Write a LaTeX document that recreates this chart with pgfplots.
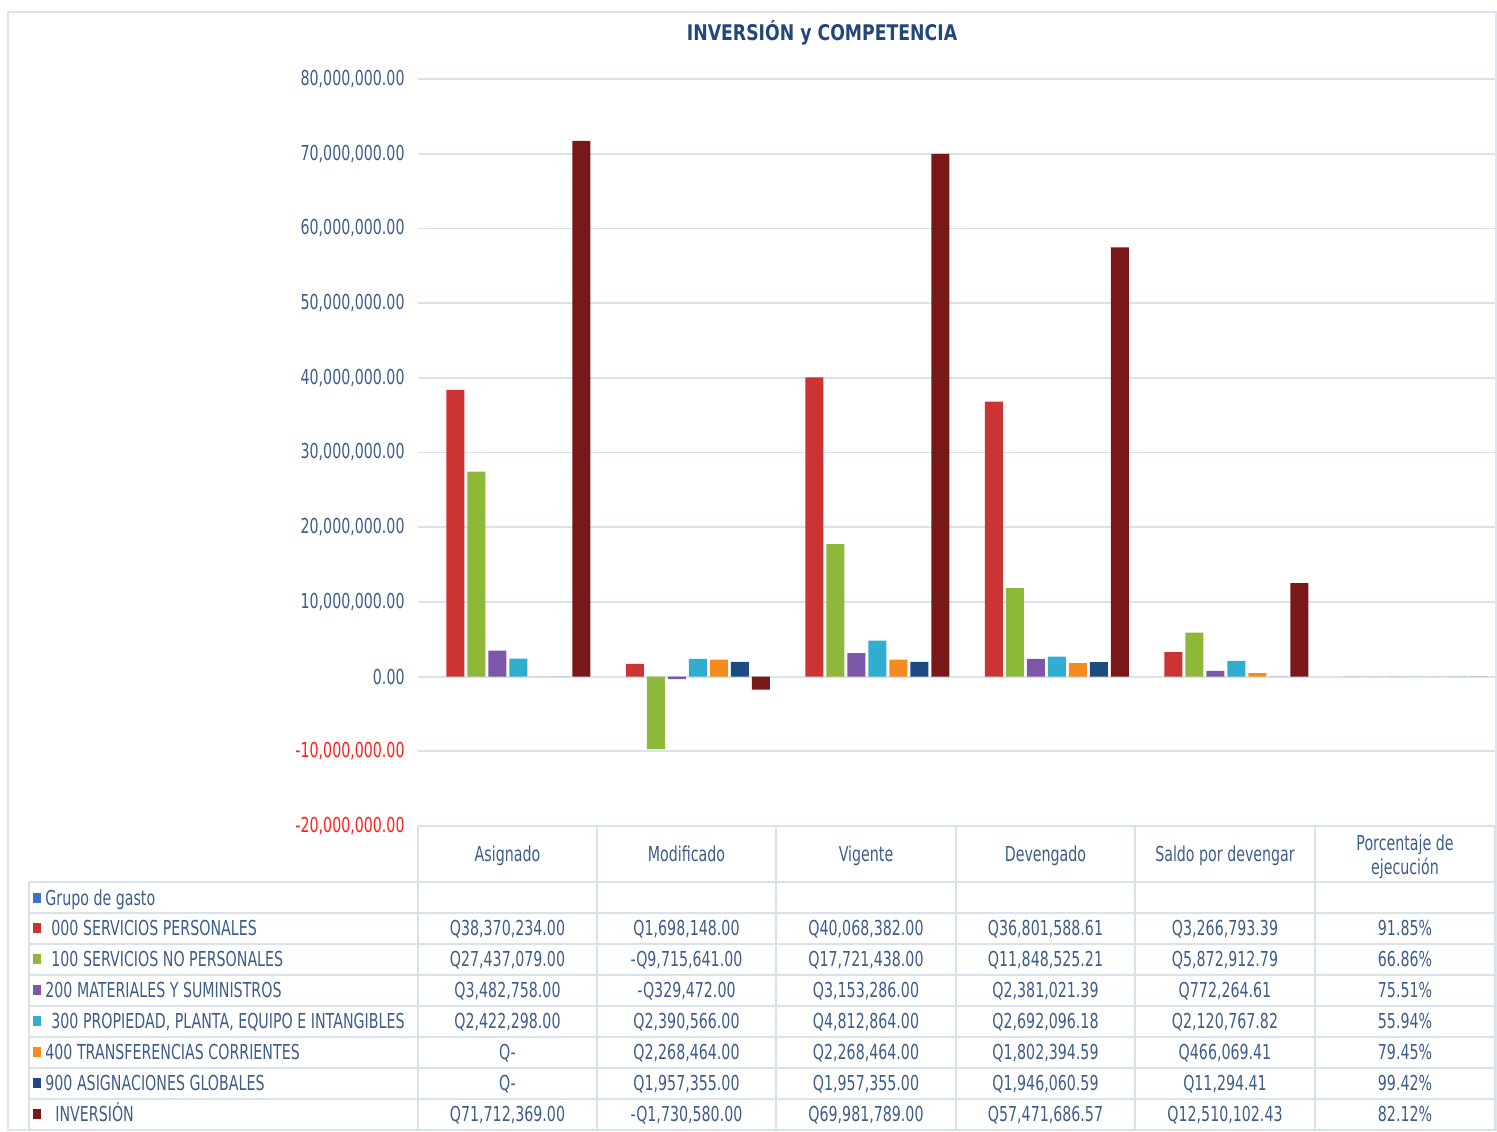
\documentclass[border=0pt]{standalone}
\usepackage{fontspec}
\setmainfont{DejaVu Sans}[FakeStretch=0.69]
\newfontfamily\titlefont{DejaVu Sans}[FakeStretch=0.8]
\usepackage{pgfplots}
\pgfplotsset{compat=1.18}
\definecolor{cgrp}{HTML}{3A75C4}
\definecolor{c000}{HTML}{CC3333}
\definecolor{c100}{HTML}{8DB83A}
\definecolor{c200}{HTML}{7E56A8}
\definecolor{c300}{HTML}{31ADD0}
\definecolor{c400}{HTML}{F58A1E}
\definecolor{c900}{HTML}{1D4A80}
\definecolor{cinv}{HTML}{781818}
\definecolor{gridcol}{HTML}{D6E2EC}
\definecolor{framecol}{HTML}{DCE6F0}
\definecolor{txt}{HTML}{3D5D8A}
\definecolor{ttl}{HTML}{24477A}
\definecolor{negred}{HTML}{FF1E1E}
\begin{document}
\fontsize{10.3}{12}\selectfont
\begin{tikzpicture}
\begin{scope}[x=0.5pt,y=-0.5pt]
\path (0,0) rectangle (1497,1131);
\draw[framecol, line width=0.8pt] (8,12) rectangle (1496,1130);
\node[text=ttl, font=\titlefont\bfseries\fontsize{10.8}{13}\selectfont, text height=8pt, text depth=2pt, yshift=-1pt] at (822,32) {INVERSIÓN y COMPETENCIA};
\end{scope}
\begin{axis}[
  at={(209pt,-413pt)}, anchor=south west,
  width=538.5pt, height=373.5pt, scale only axis,
  xmin=-0.5, xmax=5.5, ymin=-20000000, ymax=80000000,
  axis line style={draw=none}, tick style={draw=none},
  xtick=\empty,
  ytick={-20000000,-10000000,0,10000000,20000000,30000000,40000000,50000000,60000000,70000000,80000000},
  yticklabels={\textcolor{negred}{-20,000,000.00},\textcolor{negred}{-10,000,000.00},0.00,{10,000,000.00},{20,000,000.00},{30,000,000.00},{40,000,000.00},{50,000,000.00},{60,000,000.00},{70,000,000.00},{80,000,000.00}},
  yticklabel style={text=txt, inner sep=0pt, anchor=east, xshift=-6.5pt, font=\fontsize{10.3}{12}\selectfont},
  scaled y ticks=false,
  ymajorgrids, grid style={gridcol, line width=0.9pt},
  ybar=1.5pt, bar width=9pt,
  clip=false,
]
% Grupo de gasto (no values)
\addplot[draw=none, fill=none] coordinates {(0,0) (1,0) (2,0) (3,0) (4,0) (5,0)};
% 000 SERVICIOS PERSONALES
\addplot[draw=none, fill=c000] coordinates {(0,38370234.00) (1,1698148.00) (2,40068382.00) (3,36801588.61) (4,3266793.39) (5,0.9185)};
% 100 SERVICIOS NO PERSONALES
\addplot[draw=none, fill=c100] coordinates {(0,27437079.00) (1,-9715641.00) (2,17721438.00) (3,11848525.21) (4,5872912.79) (5,0.6686)};
% 200 MATERIALES Y SUMINISTROS
\addplot[draw=none, fill=c200] coordinates {(0,3482758.00) (1,-329472.00) (2,3153286.00) (3,2381021.39) (4,772264.61) (5,0.7551)};
% 300 PROPIEDAD, PLANTA, EQUIPO E INTANGIBLES
\addplot[draw=none, fill=c300] coordinates {(0,2422298.00) (1,2390566.00) (2,4812864.00) (3,2692096.18) (4,2120767.82) (5,0.5594)};
% 400 TRANSFERENCIAS CORRIENTES
\addplot[draw=none, fill=c400] coordinates {(0,0) (1,2268464.00) (2,2268464.00) (3,1802394.59) (4,466069.41) (5,0.7945)};
% 900 ASIGNACIONES GLOBALES
\addplot[draw=none, fill=c900] coordinates {(0,0) (1,1957355.00) (2,1957355.00) (3,1946060.59) (4,11294.41) (5,0.9942)};
% INVERSION
\addplot[draw=none, fill=cinv] coordinates {(0,71712369.00) (1,-1730580.00) (2,69981789.00) (3,57471686.57) (4,12510102.43) (5,0.8212)};
\end{axis}
\begin{scope}[x=0.5pt,y=-0.5pt]
% table grid
\draw[gridcol, line width=0.8pt] (418,826) -- (1495,826);
\foreach \yy in {882,913,944,975,1006,1037,1068,1099,1130}
  \draw[gridcol, line width=0.8pt] (29,\yy) -- (1495,\yy);
\draw[gridcol, line width=0.8pt] (29,882) -- (29,1130);
\foreach \xx in {418,597,776,956,1135,1315,1495}
  \draw[gridcol, line width=0.8pt] (\xx,826) -- (\xx,1130);
% headers
\begin{scope}[every node/.style={text=txt, inner sep=0pt, text height=7.6pt, text depth=2.2pt, yshift=-1pt}]
\node at (507.5,854) {Asignado};
\node at (686.5,854) {Modificado};
\node at (866,854) {Vigente};
\node at (1045.5,854) {Devengado};
\node at (1225,854) {Saldo por devengar};
\node at (1405,843) {Porcentaje de};
\node at (1405,867) {ejecución};
% row labels
\fill[cgrp] (33,893) rectangle (41,903);
\node[anchor=west] at (45,898) {Grupo de gasto};
\fill[c000] (33,923) rectangle (41,933);
\node[anchor=west] at (51,928) {000 SERVICIOS PERSONALES};
\fill[c100] (33,954) rectangle (41,964);
\node[anchor=west] at (51,959) {100 SERVICIOS NO PERSONALES};
\fill[c200] (33,985) rectangle (41,995);
\node[anchor=west] at (45,990) {200 MATERIALES Y SUMINISTROS};
\fill[c300] (33,1016) rectangle (41,1026);
\node[anchor=west] at (51,1021) {300 PROPIEDAD, PLANTA, EQUIPO E INTANGIBLES};
\fill[c400] (33,1047) rectangle (41,1057);
\node[anchor=west] at (45,1052) {400 TRANSFERENCIAS CORRIENTES};
\fill[c900] (33,1078) rectangle (41,1088);
\node[anchor=west] at (45,1083) {900 ASIGNACIONES GLOBALES};
\fill[cinv] (33,1109) rectangle (41,1119);
\node[anchor=west] at (55,1114) {INVERSIÓN};
% values
\node at (507.5,928) {Q38,370,234.00};
\node at (686.5,928) {Q1,698,148.00};
\node at (866,928) {Q40,068,382.00};
\node at (1045.5,928) {Q36,801,588.61};
\node at (1225,928) {Q3,266,793.39};
\node at (1405,928) {91.85\%};
\node at (507.5,959) {Q27,437,079.00};
\node at (686.5,959) {-Q9,715,641.00};
\node at (866,959) {Q17,721,438.00};
\node at (1045.5,959) {Q11,848,525.21};
\node at (1225,959) {Q5,872,912.79};
\node at (1405,959) {66.86\%};
\node at (507.5,990) {Q3,482,758.00};
\node at (686.5,990) {-Q329,472.00};
\node at (866,990) {Q3,153,286.00};
\node at (1045.5,990) {Q2,381,021.39};
\node at (1225,990) {Q772,264.61};
\node at (1405,990) {75.51\%};
\node at (507.5,1021) {Q2,422,298.00};
\node at (686.5,1021) {Q2,390,566.00};
\node at (866,1021) {Q4,812,864.00};
\node at (1045.5,1021) {Q2,692,096.18};
\node at (1225,1021) {Q2,120,767.82};
\node at (1405,1021) {55.94\%};
\node at (507.5,1052) {Q-};
\node at (686.5,1052) {Q2,268,464.00};
\node at (866,1052) {Q2,268,464.00};
\node at (1045.5,1052) {Q1,802,394.59};
\node at (1225,1052) {Q466,069.41};
\node at (1405,1052) {79.45\%};
\node at (507.5,1083) {Q-};
\node at (686.5,1083) {Q1,957,355.00};
\node at (866,1083) {Q1,957,355.00};
\node at (1045.5,1083) {Q1,946,060.59};
\node at (1225,1083) {Q11,294.41};
\node at (1405,1083) {99.42\%};
\node at (507.5,1114) {Q71,712,369.00};
\node at (686.5,1114) {-Q1,730,580.00};
\node at (866,1114) {Q69,981,789.00};
\node at (1045.5,1114) {Q57,471,686.57};
\node at (1225,1114) {Q12,510,102.43};
\node at (1405,1114) {82.12\%};
\end{scope}
\end{scope}
\end{tikzpicture}
\end{document}
